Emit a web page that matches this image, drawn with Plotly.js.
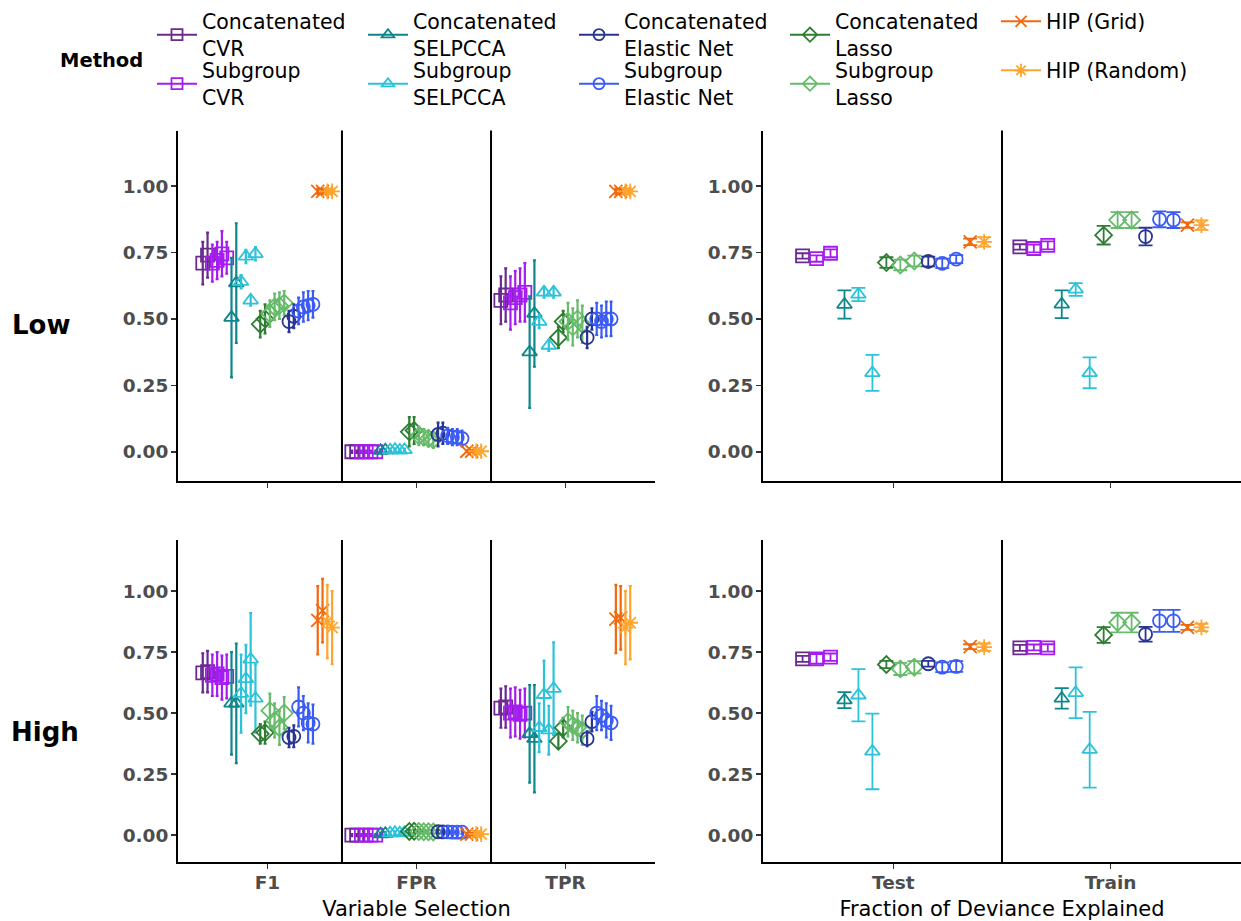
<!DOCTYPE html>
<html>
<head>
<meta charset="utf-8">
<script src="https://cdn.plot.ly/plotly-3.0.1.min.js"></script>
<style>html,body{margin:0;padding:0;background:#ffffff;}</style>
</head>
<body>
<div id="chart" style="width:1241px;height:921px;"></div>
<script>
// ---------- categories & methods ----------
const methods = ['Concatenated<br>CVR', 'Subgroup<br>CVR', 'Concatenated<br>SELPCCA', 'Subgroup<br>SELPCCA',
  'Concatenated<br>Lasso', 'Subgroup<br>Lasso', 'Concatenated<br>Elastic Net', 'Subgroup<br>Elastic Net',
  'HIP (Grid)', 'HIP (Random)'];
const methodColors = ['#6A2A8F', '#A51CF0', '#0E878C', '#2CC3DA', '#2E7D32', '#66BB6A', '#283593', '#3A5BF5', '#F2680C', '#FFA52E'];
const methodSymbols = ['square-open', 'square-open', 'triangle-up-open', 'triangle-up-open', 'diamond-open', 'diamond-open',
  'circle-open', 'circle-open', 'x-thin-open', 'asterisk-open'];
// method shown in each of the 14 dodge slots (plot order)
const slotMethod = [0, 1, 1, 2, 3, 3, 4, 5, 5, 6, 7, 7, 8, 9];
const legendRow1 = [0, 2, 6, 4, 8];
const legendRow2 = [1, 3, 7, 5, 9];
const selectionMetrics = ['F1', 'FPR', 'TPR'];
const devianceSets = ['Test', 'Train'];
const rowLabels = ['Low', 'High'];
const yTickVals = [0, 0.25, 0.5, 0.75, 1];
const yTickText = ['0.00', '0.25', '0.50', '0.75', '1.00'];

// ---------- Variable selection (14 slots x 2 views) ----------
const f1LowMean = [0.71,0.74, 0.71,0.72, 0.745,0.73, 0.505,0.635, 0.64,0.735, 0.57,0.745, 0.48,0.50, 0.52,0.545, 0.55,0.56, 0.49,0.51, 0.53,0.545, 0.55,0.555, 0.98,0.98, 0.98,0.98];
const f1LowSd   = [0.08,0.085, 0.07,0.07, 0.085,0.06, 0.225,0.225, 0.025,0.025, 0.02,0.025, 0.05,0.055, 0.05,0.05, 0.05,0.045, 0.04,0.045, 0.05,0.055, 0.055,0.05, 0.01,0.01, 0.01,0.01];
const fprLowMean = [0,0, 0,0, 0,0, 0.004,0.006, 0.006,0.008, 0.005,0.007, 0.075,0.08, 0.06,0.055, 0.05,0.045, 0.065,0.07, 0.06,0.055, 0.055,0.05, 0.002,0.002, 0.002,0.002];
const fprLowSd   = [0.004,0.004, 0.004,0.004, 0.004,0.004, 0.005,0.005, 0.005,0.005, 0.005,0.005, 0.055,0.05, 0.035,0.03, 0.03,0.03, 0.045,0.04, 0.03,0.03, 0.03,0.03, 0.003,0.003, 0.003,0.003];
const tprLowMean = [0.57,0.59, 0.56,0.58, 0.59,0.60, 0.375,0.52, 0.49,0.60, 0.40,0.60, 0.43,0.49, 0.49,0.47, 0.50,0.48, 0.43,0.50, 0.50,0.49, 0.50,0.50, 0.98,0.98, 0.98,0.98];
const tprLowSd   = [0.09,0.10, 0.10,0.10, 0.10,0.11, 0.21,0.20, 0.025,0.02, 0.02,0.02, 0.04,0.04, 0.07,0.07, 0.07,0.07, 0.04,0.04, 0.06,0.06, 0.065,0.065, 0.01,0.01, 0.01,0.01];
const f1HighMean = [0.665,0.67, 0.655,0.66, 0.645,0.65, 0.54,0.54, 0.58,0.64, 0.72,0.56, 0.415,0.42, 0.51,0.47, 0.44,0.50, 0.40,0.405, 0.525,0.50, 0.46,0.455, 0.88,0.92, 0.875,0.85];
const f1HighSd   = [0.08,0.085, 0.085,0.09, 0.09,0.09, 0.21,0.245, 0.16,0.14, 0.19,0.14, 0.04,0.045, 0.07,0.07, 0.07,0.065, 0.04,0.045, 0.08,0.07, 0.08,0.08, 0.14,0.13, 0.15,0.15];
const fprHighMean = [0,0, 0,0, 0,0, 0.004,0.006, 0.008,0.01, 0.008,0.01, 0.015,0.016, 0.015,0.014, 0.014,0.013, 0.014,0.013, 0.013,0.012, 0.012,0.012, 0.004,0.004, 0.004,0.004];
const fprHighSd   = [0.004,0.004, 0.004,0.004, 0.004,0.004, 0.006,0.006, 0.006,0.006, 0.006,0.006, 0.008,0.008, 0.008,0.008, 0.008,0.008, 0.007,0.007, 0.007,0.007, 0.007,0.007, 0.005,0.005, 0.005,0.005];
const tprHighMean = [0.52,0.525, 0.50,0.505, 0.495,0.50, 0.415,0.395, 0.44,0.575, 0.43,0.60, 0.385,0.44, 0.465,0.45, 0.44,0.43, 0.395,0.465, 0.50,0.49, 0.47,0.46, 0.885,0.89, 0.85,0.87];
const tprHighSd   = [0.08,0.085, 0.10,0.10, 0.10,0.10, 0.20,0.22, 0.10,0.14, 0.10,0.19, 0.03,0.04, 0.06,0.06, 0.06,0.06, 0.03,0.04, 0.07,0.06, 0.07,0.07, 0.14,0.13, 0.15,0.15];

// ---------- Fraction of deviance explained (14 slots) ----------
const testLowMean  = [0.737, 0.727, 0.747, 0.554, 0.592, 0.297, 0.712, 0.703, 0.718, 0.716, 0.709, 0.725, 0.79, 0.79];
const testLowSd    = [0.01, 0.012, 0.015, 0.053, 0.025, 0.068, 0.02, 0.02, 0.02, 0.018, 0.018, 0.015, 0.012, 0.018];
const trainLowMean = [0.771, 0.765, 0.777, 0.555, 0.611, 0.297, 0.815, 0.872, 0.872, 0.81, 0.875, 0.872, 0.853, 0.853];
const trainLowSd   = [0.01, 0.015, 0.015, 0.052, 0.024, 0.058, 0.035, 0.03, 0.03, 0.033, 0.03, 0.03, 0.01, 0.018];
const testHighMean  = [0.722, 0.722, 0.729, 0.553, 0.573, 0.343, 0.699, 0.681, 0.688, 0.702, 0.688, 0.691, 0.772, 0.77];
const testHighSd    = [0.012, 0.02, 0.015, 0.033, 0.107, 0.155, 0.015, 0.025, 0.025, 0.012, 0.02, 0.022, 0.01, 0.015];
const trainHighMean = [0.767, 0.769, 0.767, 0.56, 0.583, 0.35, 0.82, 0.871, 0.871, 0.823, 0.878, 0.878, 0.851, 0.851];
const trainHighSd   = [0.012, 0.012, 0.015, 0.042, 0.104, 0.155, 0.032, 0.04, 0.04, 0.03, 0.045, 0.045, 0.01, 0.015];

// ---------- build ----------
const W = 1241, H = 921;
const FONT = 'DejaVu Sans';
const panels = [
  {xa: 'x',  ya: 'y',  cats: selectionMetrics, means: [f1LowMean, fprLowMean, tprLowMean], sds: [f1LowSd, fprLowSd, tprLowSd], per: 2, cap: 1.5, thick: 2.2},
  {xa: 'x2', ya: 'y2', cats: devianceSets, means: [testLowMean, trainLowMean], sds: [testLowSd, trainLowSd], per: 1, cap: 7, thick: 1.8},
  {xa: 'x3', ya: 'y3', cats: selectionMetrics, means: [f1HighMean, fprHighMean, tprHighMean], sds: [f1HighSd, fprHighSd, tprHighSd], per: 2, cap: 1.5, thick: 2.2},
  {xa: 'x4', ya: 'y4', cats: devianceSets, means: [testHighMean, trainHighMean], sds: [testHighSd, trainHighSd], per: 1, cap: 7, thick: 1.8}
];

const traces = [];
panels.forEach(p => {
  const nPos = slotMethod.length * p.per;
  methods.forEach((name, m) => {
    const xs = [], ys = [], es = [];
    p.cats.forEach((c, ci) => {
      for (let k = 0; k < nPos; k++) {
        if (slotMethod[Math.floor(k / p.per)] !== m) continue;
        xs.push(ci + 1 - 0.45 + 0.9 / nPos * (k + 0.5));
        ys.push(p.means[ci][k]);
        es.push(p.sds[ci][k]);
      }
    });
    traces.push({
      type: 'scatter', mode: 'markers', x: xs, y: ys, xaxis: p.xa, yaxis: p.ya,
      name: name, showlegend: false, legendgroup: 'm' + m, hoverinfo: 'skip',
      marker: {symbol: methodSymbols[m], size: 13, color: methodColors[m], line: {color: methodColors[m], width: 1.8}},
      error_y: {type: 'data', array: es, visible: true, color: methodColors[m], thickness: p.thick, width: p.cap}
    });
  });
});

[legendRow1, legendRow2].forEach((row, r) => {
  row.forEach(m => {
    traces.push({
      type: 'scatter', mode: 'lines+markers', x: [null], y: [null], xaxis: 'x', yaxis: 'y',
      name: methods[m], legend: r === 0 ? 'legend' : 'legend2', legendgroup: 'm' + m, showlegend: true,
      line: {color: methodColors[m], width: 2},
      marker: {symbol: methodSymbols[m], size: 11, color: methodColors[m], line: {color: methodColors[m], width: 1.8}}
    });
  });
});

const tickFont = {family: FONT, size: 18.5, color: '#4D4D4D', weight: 'bold'};
function yAxis(domain, anchor) {
  return {
    domain: domain, anchor: anchor, range: [-0.11, 1.209],
    tickmode: 'array', tickvals: yTickVals, ticktext: yTickText,
    ticks: 'outside', ticklen: 5, tickwidth: 1.5, tickcolor: '#333333',
    showline: true, linecolor: '#000000', linewidth: 2, showgrid: false, zeroline: false,
    tickfont: tickFont, ticklabelstandoff: -1, fixedrange: true
  };
}
function xAxis(domain, anchor, cats, showLabels, titleText) {
  const ax = {
    domain: domain, anchor: anchor, range: [0.4, cats.length + 0.6],
    tickmode: 'array', tickvals: cats.map((c, i) => i + 1), ticktext: cats,
    showticklabels: showLabels,
    ticks: 'outside', ticklen: 5, tickwidth: 1.5, tickcolor: '#333333',
    showline: true, linecolor: '#000000', linewidth: 2, showgrid: false, zeroline: false,
    tickfont: tickFont, ticklabelstandoff: -2, fixedrange: true
  };
  if (titleText) ax.title = {text: titleText, font: {family: FONT, size: 21, color: '#000000'}, standoff: 9};
  return ax;
}

const leftX = [178 / W, 655 / W], rightX = [763 / W, 1];
const topY = [1 - 481 / H, 1 - 130.5 / H], botY = [1 - 862 / H, 1 - 540 / H];

const shapes = [];
[['x', 'y', [1.5, 2.5]], ['x2', 'y2', [1.5]], ['x3', 'y3', [1.5, 2.5]], ['x4', 'y4', [1.5]]].forEach(([xa, ya, bounds]) => {
  bounds.forEach(b => shapes.push({type: 'line', xref: xa, yref: ya + ' domain', x0: b, x1: b, y0: 0, y1: 1, line: {color: '#000000', width: 2}}));
});

const legendBase = {
  orientation: 'h', x: 152 / W, xanchor: 'left', yanchor: 'middle',
  entrywidth: 156, entrywidthmode: 'pixels', itemwidth: 40,
  font: {family: FONT, size: 20.5, color: '#000000'}, bgcolor: 'rgba(0,0,0,0)',
  itemclick: false, itemdoubleclick: false
};

const layout = {
  width: W, height: H,
  margin: {l: 0, r: 0, t: 0, b: 0},
  paper_bgcolor: '#ffffff', plot_bgcolor: '#ffffff',
  font: {family: FONT},
  showlegend: true,
  legend: Object.assign({}, legendBase, {y: 1 - 35 / H}),
  legend2: Object.assign({}, legendBase, {y: 1 - 84 / H}),
  xaxis: xAxis(leftX, 'y', selectionMetrics, false),
  yaxis: yAxis(topY, 'x'),
  xaxis2: xAxis(rightX, 'y2', devianceSets, false),
  yaxis2: yAxis(topY, 'x2'),
  xaxis3: xAxis(leftX, 'y3', selectionMetrics, true, 'Variable Selection'),
  yaxis3: yAxis(botY, 'x3'),
  xaxis4: xAxis(rightX, 'y4', devianceSets, true, 'Fraction of Deviance Explained'),
  yaxis4: yAxis(botY, 'x4'),
  shapes: shapes,
  annotations: [
    {xref: 'paper', yref: 'paper', x: 101 / W, y: 1 - 60 / H, text: '<b>Method</b>', showarrow: false,
      xanchor: 'center', yanchor: 'middle', font: {family: FONT, size: 19.5, color: '#000000'}},
    {xref: 'paper', yref: 'paper', x: 41 / W, y: 1 - 325 / H, text: '<b>' + rowLabels[0] + '</b>', showarrow: false,
      xanchor: 'center', yanchor: 'middle', font: {family: FONT, size: 26, color: '#000000'}},
    {xref: 'paper', yref: 'paper', x: 45 / W, y: 1 - 732 / H, text: '<b>' + rowLabels[1] + '</b>', showarrow: false,
      xanchor: 'center', yanchor: 'middle', font: {family: FONT, size: 26, color: '#000000'}}
  ]
};

Plotly.newPlot('chart', traces, layout, {displayModeBar: false, staticPlot: true});
</script>
</body>
</html>
